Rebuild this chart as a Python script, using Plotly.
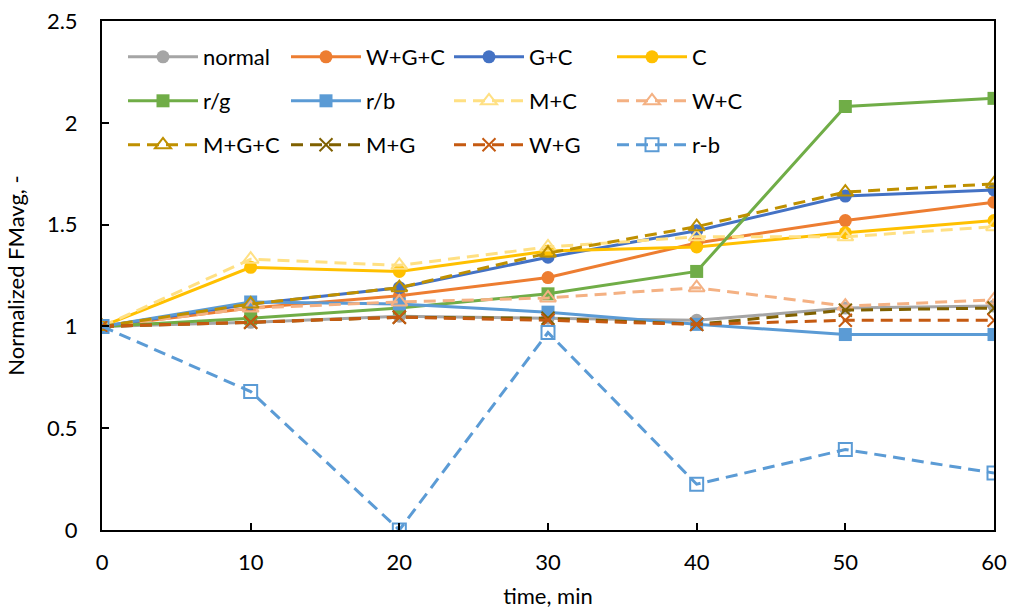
import plotly.graph_objects as go

time = [0, 10, 20, 30, 40, 50, 60]
normal = [1, 1.02, 1.05, 1.04, 1.03, 1.09, 1.10]
wgc = [1, 1.09, 1.15, 1.24, 1.41, 1.52, 1.61]
gc = [1, 1.11, 1.19, 1.34, 1.47, 1.64, 1.67]
c = [1, 1.29, 1.27, 1.37, 1.39, 1.46, 1.52]
rg = [1, 1.04, 1.09, 1.16, 1.27, 2.08, 2.12]
rb = [1, 1.12, 1.11, 1.07, 1.01, 0.96, 0.96]
mc = [1, 1.33, 1.30, 1.39, 1.44, 1.44, 1.49]
wc = [1, 1.09, 1.12, 1.14, 1.19, 1.10, 1.13]
mgc = [1, 1.11, 1.19, 1.36, 1.49, 1.66, 1.70]
mg = [1, 1.02, 1.045, 1.04, 1.01, 1.08, 1.09]
wg = [1, 1.02, 1.045, 1.03, 1.01, 1.03, 1.03]
r_minus_b = [1, 0.68, 0.0, 0.97, 0.225, 0.395, 0.28]

FONT = "Lato"
FS = 22
DASH = "12px,7px"

series = [
    # name, values, color, symbol, dashed, legend
    ("normal", normal, "#A5A5A5", "circle", False, "legend"),
    ("W+G+C", wgc, "#ED7D31", "circle", False, "legend"),
    ("G+C", gc, "#4472C4", "circle", False, "legend"),
    ("C", c, "#FFC000", "circle", False, "legend"),
    ("r/g", rg, "#70AD47", "square", False, "legend2"),
    ("r/b", rb, "#5B9BD5", "square", False, "legend2"),
    ("M+C", mc, "#FFE083", "triangle-up-open", True, "legend2"),
    ("W+C", wc, "#F4B183", "triangle-up-open", True, "legend2"),
    ("M+G+C", mgc, "#BF9000", "triangle-up-open", True, "legend3"),
    ("M+G", mg, "#7F6000", "x-thin-open", True, "legend3"),
    ("W+G", wg, "#C55A11", "x-thin-open", True, "legend3"),
    ("r-b", r_minus_b, "#5B9BD5", "square-open", True, "legend3"),
]

fig = go.Figure()
for name, vals, color, sym, dashed, leg in series:
    filled = not sym.endswith("open")
    size = 13
    if sym.startswith("triangle"):
        size = 14
    fig.add_trace(go.Scatter(
        x=time, y=vals, name=name, mode="lines+markers",
        line=dict(color=color, width=3, dash=DASH if dashed else "solid"),
        marker=dict(symbol=sym, size=size, color=color,
                    line=dict(color=color, width=2 if not filled else 0)),
        legend=leg,
    ))

legend_common = dict(
    orientation="h", xanchor="left", yanchor="middle",
    font=dict(family=FONT, size=FS, color="black"),
    itemwidth=70, entrywidth=78, entrywidthmode="pixels",
    bgcolor="rgba(0,0,0,0)", borderwidth=0, traceorder="normal",
)

W, H = 1010, 615
L, R, T, B = 102, 16, 21, 85
pw, ph = W - L - R, H - T - B

def px_x(px):
    return (px - L) / pw

def px_y(py):
    return (H - B - py) / ph

leg_x = px_x(123)
fig.update_layout(
    width=W, height=H,
    margin=dict(l=L, r=R, t=T, b=B, autoexpand=False),
    paper_bgcolor="white", plot_bgcolor="white",
    font=dict(family=FONT, size=FS, color="black"),
    showlegend=True,
    legend=dict(x=leg_x, y=px_y(57), **legend_common),
    legend2=dict(x=leg_x, y=px_y(101), **legend_common),
    legend3=dict(x=leg_x, y=px_y(145), **legend_common),
    xaxis=dict(
        range=[0, 60], dtick=10, tick0=0, automargin=False,
        showgrid=False, zeroline=False,
        showline=True, linecolor="black", linewidth=2, mirror=True,
        ticks="inside", ticklen=7, tickwidth=1.5, tickcolor="black",
        ticklabelstandoff=12,
        tickfont=dict(family=FONT, size=FS, color="black"),
        title=dict(text="time, min", font=dict(family=FONT, size=FS, color="black"), standoff=14),
    ),
    yaxis=dict(
        range=[0, 2.5], dtick=0.5, tick0=0, automargin=False,
        showgrid=False, zeroline=False,
        showline=True, linecolor="black", linewidth=2, mirror=True,
        ticks="inside", ticklen=7, tickwidth=1.5, tickcolor="black",
        ticklabelstandoff=18,
        tickfont=dict(family=FONT, size=FS, color="black"),
        title=dict(text="Normalized FMavg, -", font=dict(family=FONT, size=FS, color="black"), standoff=16),
    ),
)

fig.write_html(
    "out.html",
    config={"displayModeBar": False},
    post_script="document.body.style.margin='0';document.body.style.overflow='hidden';",
)
